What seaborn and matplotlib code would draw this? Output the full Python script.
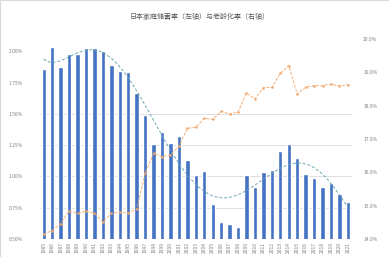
import numpy as np
import pandas as pd
import matplotlib
matplotlib.use("Agg")
import matplotlib.pyplot as plt
import seaborn as sns

# ---- data ----
years = [str(y) for y in range(1985, 2022)]
bar_values = [1.860, 2.036, 1.876, 1.978, 1.978, 2.023, 2.026, 2.002, 1.892, 1.844,
              1.834, 1.664, 1.490, 1.259, 1.352, 1.267, 1.325, 1.131, 1.011, 1.041,
              0.782, 0.636, 0.617, 0.596, 1.014, 0.918, 1.038, 1.049, 1.200, 1.259,
              1.147, 1.019, 0.987, 0.918, 0.945, 0.859, 0.798]
line_values = [14.15, 14.25, 14.46, 14.84, 14.77, 14.83, 14.77, 14.51, 14.77, 14.81,
               14.79, 14.89, 15.97, 16.57, 16.47, 16.52, 16.79, 17.32, 17.35, 17.62,
               17.59, 17.83, 17.75, 17.81, 18.38, 18.20, 18.54, 18.55, 18.97, 19.20,
               18.35, 18.55, 18.60, 18.60, 18.65, 18.59, 18.63]
left_ticks = [0.50, 0.75, 1.00, 1.25, 1.50, 1.75, 2.00]
grid_ticks = [0.75, 1.00, 1.25, 1.50]
right_ticks = [14, 15, 16, 17, 18, 19, 20]
title = "日本家庭储蓄率（左轴）与老龄化率（右轴）"

df = pd.DataFrame({"year": years, "bar": bar_values, "line": line_values})
df["idx"] = np.arange(len(df))

sns.set_theme(style="white")
plt.rcParams["font.family"] = ["Noto Sans CJK SC", "DejaVu Sans"]

W, H = 389, 257
fig = plt.figure(figsize=(W / 100, H / 100), dpi=100)
ax = fig.add_axes([39.5 / W, (H - 239) / H, 312.6 / W, 200 / H])

for g in grid_ticks:
    ax.axhline(g, color="#d9d9d9", lw=0.6, zorder=0)

sns.barplot(data=df, x="idx", y="bar", color="#4472C4", width=0.52, ax=ax,
            saturation=1, zorder=2)

# polynomial trendline of bars
coef = np.polyfit(df["idx"], df["bar"], 6)
xs = np.linspace(0, len(df) - 1, 200)
ax.plot(xs, np.polyval(coef, xs), color="#6aa6b8", lw=0.7, ls=(0, (3, 2)), zorder=3)

step = 0.25
ax.set_ylim(left_ticks[0], left_ticks[0] + 6.39 * step)
ax.set_yticks(left_ticks)
ax.set_yticklabels([f"{v:.2f}%" for v in left_ticks])
ax.set_xlim(-0.5, len(df) - 0.5)
ax.set_xticks(df["idx"])
ax.set_xticklabels(years, rotation=90)
ax.set_xlabel("")
ax.set_ylabel("")
for s in ax.spines.values():
    s.set_visible(False)
ax.tick_params(axis="both", length=0, labelsize=3.5, colors="#7f7f7f", pad=2)
ax.tick_params(axis="y", pad=12)

ax2 = ax.twinx()
sns.lineplot(data=df, x="idx", y="line", ax=ax2, color="#f2a66a", lw=0.6,
             marker="o", markersize=1.8, markeredgewidth=0, linestyle="--", zorder=4)
ax2.set_ylim(right_ticks[0], right_ticks[-1])
ax2.set_yticks(right_ticks)
ax2.set_yticklabels([f"{v:.1f}%" for v in right_ticks])
ax2.set_xlim(-0.5, len(df) - 0.5)
ax2.set_ylabel("")
ax2.set_xlabel("")
for s in ax2.spines.values():
    s.set_visible(False)
ax2.tick_params(axis="y", length=0, labelsize=3.5, colors="#7f7f7f", pad=8)

fig.text(200 / W, 1 - 17 / H, title, ha="center", va="center", fontsize=5,
         color="#595959")

fig.patches.append(plt.Rectangle((0, 0), 1, 1, transform=fig.transFigure,
                                 fill=False, edgecolor="#d9d9d9", lw=0.8))
fig.savefig("out.png", dpi=100)
